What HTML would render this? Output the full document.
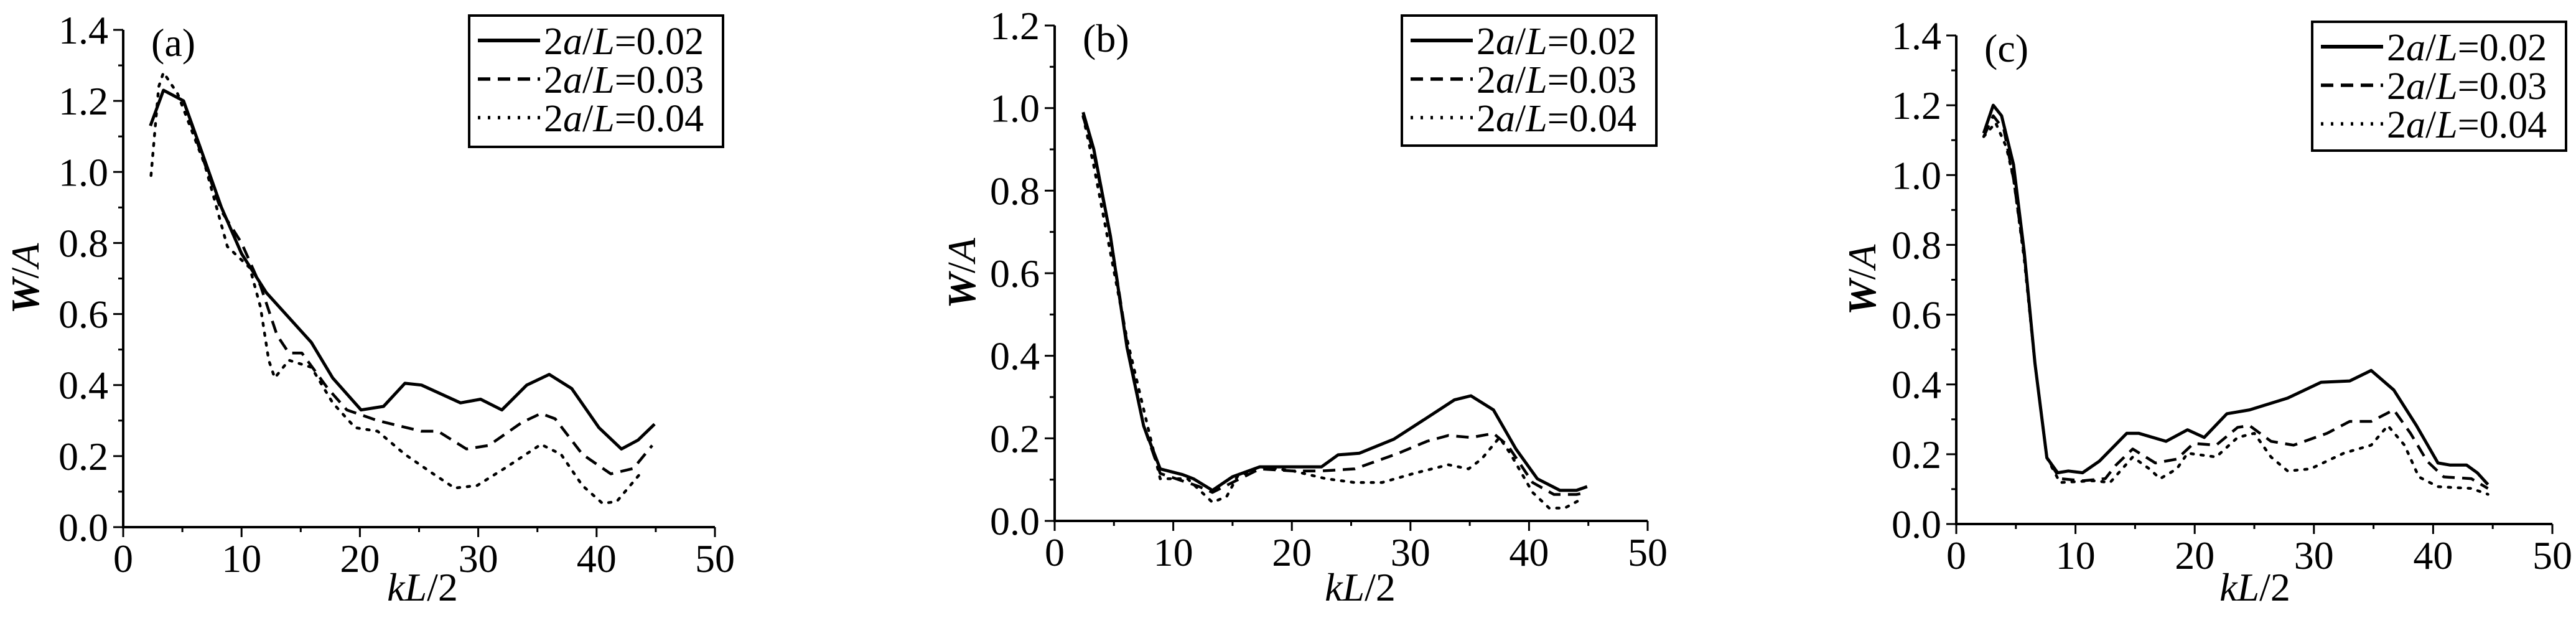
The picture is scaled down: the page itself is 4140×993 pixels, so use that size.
<!DOCTYPE html>
<html><head><meta charset="utf-8"><style>
html,body{margin:0;padding:0;background:#fff;}
svg{display:block;font-family:"Liberation Serif",serif;}
</style></head><body>
<svg id="fig" width="4140" height="993" viewBox="0 0 4140 993" xmlns="http://www.w3.org/2000/svg"></svg>
<script>
// ---- data: panel a ----
const aSolidX=[2.3,3.4,5.1,6.5,8.3,10,12.1,15.9,17.7,20.1,22,23.8,25.2,28.5,30.2,32,34.1,36,37.9,40.2,42.1,43.5,44.9];
const aSolidY=[1.13,1.23,1.2,1.07,0.9,0.77,0.66,0.52,0.42,0.33,0.34,0.405,0.40,0.35,0.36,0.33,0.40,0.43,0.39,0.28,0.22,0.245,0.29];
const aDashX=[2.3,3.4,5.1,6.5,8.3,10,11.6,13,14,15.1,17.3,18.9,21.5,25.2,26.6,29,30.9,33.7,35.3,36.5,38.8,41.2,43.1,44.7];
const aDashY=[1.13,1.23,1.2,1.06,0.89,0.8,0.68,0.54,0.49,0.49,0.39,0.33,0.3,0.27,0.27,0.22,0.23,0.295,0.32,0.305,0.205,0.15,0.165,0.23];
const aDotX=[2.35,3,3.4,4.6,6.9,8.8,10.7,11.6,12.3,12.8,14,15.9,17.7,19.6,21.5,23.8,26.2,28,29.9,32.3,35.3,37,38.8,40.5,41.7,43.8];
const aDotY=[0.99,1.24,1.28,1.22,1.02,0.79,0.73,0.62,0.47,0.42,0.47,0.45,0.35,0.28,0.27,0.205,0.15,0.11,0.117,0.167,0.233,0.205,0.117,0.067,0.072,0.155];
// ---- data: panel b ----
const bSolidX=[2.4,3.3,4.7,6.1,7.5,8.9,10.8,11.7,13.3,15,17.3,20.1,22.5,23.9,25.7,28.6,31.4,33.7,35.1,37,38.9,40.7,42.6,44,44.9];
const bSolidY=[0.99,0.9,0.69,0.42,0.23,0.126,0.112,0.102,0.074,0.107,0.131,0.131,0.131,0.16,0.164,0.198,0.25,0.293,0.303,0.269,0.174,0.102,0.074,0.074,0.083];
const bDashX=[2.4,3.3,4.7,6.1,7.5,8.9,12.2,13.3,17.3,20.1,22.5,25.3,29,31.4,33.2,35.1,37,38.2,40.3,42.1,44,44.9];
const bDashY=[0.98,0.89,0.69,0.43,0.23,0.115,0.083,0.069,0.126,0.121,0.121,0.126,0.164,0.193,0.207,0.202,0.212,0.183,0.093,0.064,0.064,0.069];
const bDotX=[2.4,3.3,6.1,8,8.9,11.2,12.6,13.3,14.5,15.4,17.3,20.1,22.9,25.3,27.6,30.4,33.2,34.9,36,37.5,38.4,40.3,41.7,43,44.5];
const bDotY=[0.98,0.86,0.44,0.21,0.102,0.102,0.064,0.045,0.059,0.107,0.131,0.121,0.102,0.093,0.093,0.116,0.136,0.126,0.15,0.202,0.164,0.069,0.031,0.031,0.054];
// ---- data: panel c ----
const cSolidX=[2.3,3.1,3.8,4.8,5.7,6.6,7.6,8.5,9.4,10.6,12,14.3,15.3,17.6,19.4,20.8,22.7,24.6,27.8,30.6,33,34.8,36.7,38.6,40.4,41.4,42.8,43.7,44.6];
const cSolidY=[1.12,1.2,1.17,1.03,0.78,0.46,0.19,0.147,0.152,0.147,0.18,0.26,0.26,0.237,0.27,0.248,0.316,0.327,0.361,0.406,0.41,0.44,0.384,0.282,0.175,0.169,0.169,0.147,0.113];
const cDashX=[2.3,3.1,4,4.8,5.7,6.6,7.6,8.7,10.6,12.5,13.4,14.8,16.7,18.5,19.9,21.8,23.6,24.6,26.4,28.3,31.1,33,34.8,36.7,38.1,39.5,40.9,43.2,44.6];
const cDashY=[1.11,1.17,1.13,0.99,0.77,0.46,0.19,0.13,0.124,0.13,0.169,0.215,0.175,0.186,0.231,0.226,0.277,0.282,0.237,0.226,0.26,0.294,0.294,0.327,0.26,0.18,0.135,0.13,0.102];
const cDotX=[2.3,3.3,4.2,4.8,5.7,6.6,7.6,8.7,11.5,12.9,14.8,16.2,17.1,18.5,19.4,21.8,23.6,25,26.4,27.8,29.7,32.5,34.8,36.2,37.6,38.8,40.4,43.2,44.6];
const cDotY=[1.11,1.15,1.08,0.99,0.76,0.46,0.19,0.119,0.124,0.119,0.192,0.158,0.13,0.158,0.203,0.192,0.248,0.26,0.192,0.152,0.158,0.203,0.226,0.282,0.226,0.135,0.107,0.102,0.085];
// ---- tick labels ----
const xTicks=[0,10,20,30,40,50];
const yTicks14=["0.0","0.2","0.4","0.6","0.8","1.0","1.2","1.4"];
const yTicks12=["0.0","0.2","0.4","0.6","0.8","1.0","1.2"];
const legendLabels=["0.02","0.03","0.04"];

const NS="http://www.w3.org/2000/svg";
const svg=document.getElementById('fig');
function mk(tag,attrs,parent){const e=document.createElementNS(NS,tag);for(const k in attrs)e.setAttribute(k,attrs[k]);(parent||svg).appendChild(e);return e;}

const panels=[
 {id:'a',x0:198,x1:1149,y0:847,yTop:48,ymax:1.4,yt:yTicks14,leg:[754,25,1162,236],ytitleX:40,xtitleX:679,
  series:[[aSolidX,aSolidY],[aDashX,aDashY],[aDotX,aDotY]]},
 {id:'b',x0:1695,x1:2648,y0:837,yTop:41,ymax:1.2,yt:yTicks12,leg:[2253,25,2662,234],ytitleX:1545,xtitleX:2186,
  series:[[bSolidX,bSolidY],[bDashX,bDashY],[bDotX,bDotY]]},
 {id:'c',x0:3144,x1:4102,y0:842,yTop:57,ymax:1.4,yt:yTicks14,leg:[3716,35,4124,242],ytitleX:2992,xtitleX:3624,
  series:[[cSolidX,cSolidY],[cDashX,cDashY],[cDotX,cDotY]]}
];
const styles=[{w:5,d:''},{w:4.5,d:'20 12'},{w:4.5,d:'4 12'}];
const sNames=['solid','dashed','dotted'];

panels.forEach(p=>{
 const g=mk('g',{});
 
 
 const sx=v=>p.x0+(v/50)*(p.x1-p.x0);
 const sy=v=>p.y0-(v/p.ymax)*(p.y0-p.yTop);
 // axes
 const ax=mk('path',{d:`M${p.x0} ${p.yTop} V${p.y0} H${p.x1}`,stroke:'#000','stroke-width':4,fill:'none'},g);
 
 
 // x ticks
 for(let i=0;i<=10;i++){
  const v=i*5;const X=sx(v);const major=i%2===0;
  mk('line',{x1:X,x2:X,y1:p.y0,y2:p.y0+(major?16:8),stroke:'#000','stroke-width':3},g);
 }
 xTicks.forEach(v=>{
  const t=mk('text',{x:sx(v),y:p.y0+72,'font-size':64,'text-anchor':'middle'},g);
  t.textContent=v;
  
  
 });
 // y ticks
 const n=p.yt.length-1;
 for(let i=0;i<=2*n;i++){
  const v=i*0.1;const Y=sy(v);const major=i%2===0;
  mk('line',{x1:p.x0,x2:p.x0-(major?16:8),y1:Y,y2:Y,stroke:'#000','stroke-width':3},g);
 }
 p.yt.forEach((lab,i)=>{
  const t=mk('text',{x:p.x0-24,y:sy(i*0.2)+22,'font-size':64,'text-anchor':'end'},g);
  t.textContent=lab;
  
  
 });
 // titles
 const xt=mk('text',{x:p.xtitleX,y:965,'font-size':64,'text-anchor':'middle'},g);
 xt.innerHTML='<tspan font-style="italic">kL</tspan>/2';
 
 
 const yc=(p.y0+p.yTop)/2;
 const yt=mk('text',{x:p.ytitleX,y:yc,'font-size':64,'text-anchor':'middle',transform:`rotate(-90 ${p.ytitleX} ${yc})`,'dominant-baseline':'central'},g);
 yt.innerHTML='<tspan font-style="italic" font-weight="bold">W</tspan>/<tspan font-style="italic">A</tspan>';
 
 
 const pl=mk('text',{x:p.x0+45,y:p.yTop+42,'font-size':64},g);
 pl.textContent='('+p.id+')';
 
 
 // series
 p.series.forEach((s,k)=>{
  const pts=s[0].map((x,i)=>sx(x).toFixed(1)+','+sy(s[1][i]).toFixed(1)).join(' ');
  const ln=mk('polyline',{points:pts,fill:'none',stroke:'#000','stroke-width':styles[k].w,'stroke-dasharray':styles[k].d,'stroke-linejoin':'round','stroke-linecap':k===2?'round':'butt'},g);
  
  
 });
 // legend
 const [lx0,ly0,lx1,ly1]=p.leg;
 const lg=mk('g',{},g);
 
 
 mk('rect',{x:lx0,y:ly0,width:lx1-lx0,height:ly1-ly0,fill:'#fff',stroke:'#000','stroke-width':4},lg);
 legendLabels.forEach((lab,k)=>{
  const cy=ly0+40+k*62;
  mk('line',{x1:lx0+14,x2:lx0+114,y1:cy,y2:cy,stroke:'#000','stroke-width':styles[k].w+1,'stroke-dasharray':styles[k].d},lg);
  const t=mk('text',{x:lx0+120,y:cy+22,'font-size':62},lg);
  t.innerHTML='2<tspan font-style="italic">a</tspan>/<tspan font-style="italic">L</tspan>='+lab;
  
  
 });
});
</script>
</body></html>
